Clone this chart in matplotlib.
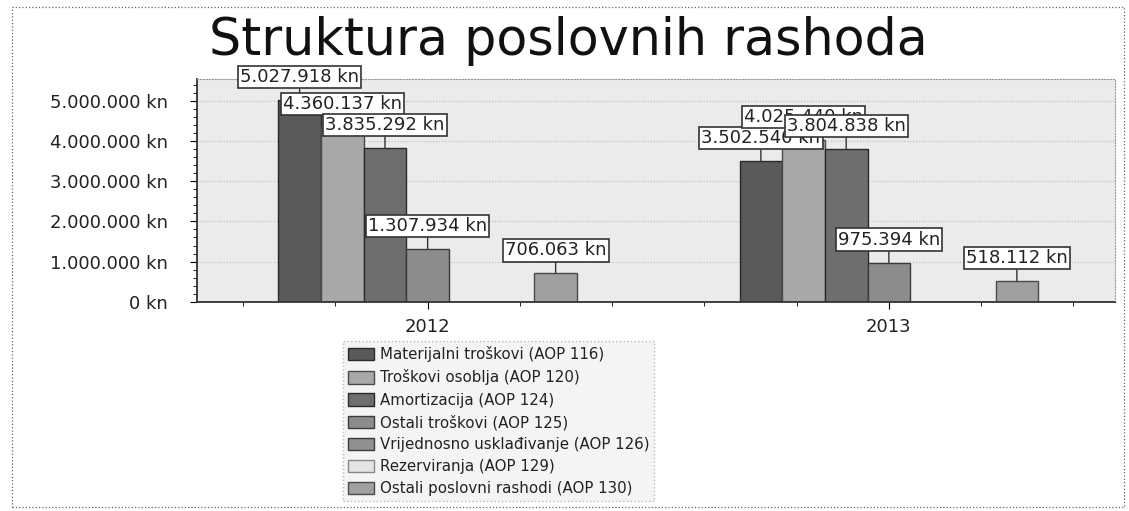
import numpy as np
import matplotlib
matplotlib.use('Agg')
import matplotlib.pyplot as plt
from matplotlib.patches import Rectangle
from matplotlib.ticker import FuncFormatter, MultipleLocator

# podaci
years = ['2012', '2013']
series = ['Materijalni troškovi (AOP 116)',
          'Troškovi osoblja (AOP 120)',
          'Amortizacija (AOP 124)',
          'Ostali troškovi (AOP 125)',
          'Vrijednosno usklađivanje (AOP 126)',
          'Rezerviranja (AOP 129)',
          'Ostali poslovni rashodi (AOP 130)']
vals_2012 = [5027918, 4360137, 3835292, 1307934, 0, 0, 706063]
vals_2013 = [3502540, 4025440, 3804838, 975394, 0, 0, 518112]

colors = ['#5a5a5a', '#a8a8a8', '#6e6e6e', '#8c8c8c', '#909090', '#e4e4e4', '#a0a0a0']
edges = ['#2a2a2a', '#4a4a4a', '#2a2a2a', '#3a3a3a', '#3a3a3a', '#888888', '#4a4a4a']

def kn(v, pos=None):
    return '{:,.0f} kn'.format(v).replace(',', '.')

plt.rcParams['font.family'] = 'DejaVu Sans'

fig = plt.figure(figsize=(11.29, 5.11), dpi=100)
ax = fig.add_axes([0.1745, 0.4096, 0.813, 0.4358])
ax.set_facecolor('#ebebeb')

x = np.arange(len(years))
w = 0.0925
data = np.array([vals_2012, vals_2013])
for i, name in enumerate(series):
    xs = x - 3 * w + i * w
    ax.bar(xs, data[:, i], width=w, color=colors[i], edgecolor=edges[i],
           linewidth=1.0, label=name, zorder=2)

# oznake vrijednosti
for j in range(len(years)):
    for i in range(len(series)):
        v = data[j, i]
        if v == 0:
            continue
        xi = x[j] - 3 * w + i * w
        ax.annotate(kn(v), xy=(xi, v), xytext=(0, 16.5), textcoords='offset points',
                    ha='center', va='center', fontsize=13, color='#222222', zorder=5,
                    bbox=dict(boxstyle='square,pad=0.12', fc='white', ec='#333333', lw=1.2),
                    arrowprops=dict(arrowstyle='-', color='#333333', lw=1.0,
                                    shrinkA=0, shrinkB=0))

ax.set_xlim(-0.5, 1.49)
ax.set_ylim(0, 5550000)
ax.set_xticks(x)
ax.set_xticklabels(years, fontsize=13, color='#222222')
ax.set_xticks(np.arange(-0.4, 1.5, 0.2), minor=True)
ax.yaxis.set_major_locator(MultipleLocator(1000000))
ax.yaxis.set_minor_locator(MultipleLocator(200000))
ax.yaxis.set_major_formatter(FuncFormatter(kn))
ax.tick_params(axis='y', labelsize=13, labelcolor='#222222', length=5, pad=16)
ax.tick_params(axis='x', length=5, pad=7)
ax.tick_params(which='minor', length=3)
ax.grid(axis='y', linestyle=':', color='#bbbbbb', linewidth=0.8, zorder=0)
for s in ['top', 'right']:
    ax.spines[s].set_linestyle(':')
    ax.spines[s].set_color('#999999')
for s in ['left', 'bottom']:
    ax.spines[s].set_color('#333333')
    ax.spines[s].set_linewidth(1.3)

fig.text(0.503, 0.92, 'Struktura poslovnih rashoda', ha='center', va='center',
         fontsize=36.5, color='#111111')

leg = fig.legend(loc='upper left', bbox_to_anchor=(0.297, 0.347), ncol=1,
                 fontsize=10.8, frameon=True, fancybox=False, edgecolor='#aaaaaa',
                 facecolor='#f2f2f2', handlelength=1.7, handleheight=0.9,
                 handletextpad=0.4, labelspacing=0.47, borderpad=0.35)
leg.get_frame().set_linestyle(':')
for t in leg.get_texts():
    t.set_color('#222222')

fig.patches.append(Rectangle((0.011, 0.008), 0.985, 0.978, transform=fig.transFigure,
                             fill=False, ls=':', lw=0.9, ec='#666666'))

fig.savefig('out.png', dpi=100)
